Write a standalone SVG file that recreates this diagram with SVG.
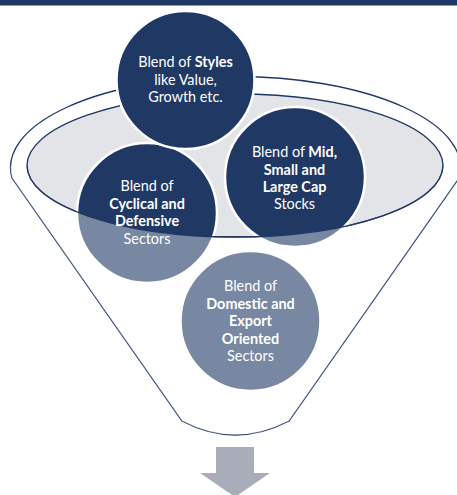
<svg xmlns="http://www.w3.org/2000/svg" width="457" height="495" viewBox="0 0 457 495">
<style>
.navy{fill:#1F3864;stroke:#fff;stroke-width:2.5}
.lbl{font-family:Lato,"Open Sans","Liberation Sans",sans-serif;font-size:14.4px;fill:#fff;text-anchor:middle}
.b{font-weight:bold}
.line{fill:none;stroke:#1F3864;stroke-width:1.3}
</style>
<defs>
<clipPath id="funnelClip">
<path id="funnelPath" d="M12 178 A225 91 0 1 1 459 178 L289 421 Q235 449 182 421 Z"/>
</clipPath>
</defs>
<rect x="0" y="0" width="457" height="5" fill="#1F3864"/>
<rect x="0" y="5" width="457" height="1" fill="#8E9AB5"/>
<g id="funnel">
<path d="M12 178 A225 91 0 1 1 459 178 L289 421 Q235 449 182 421 Z" fill="#fff" stroke="#1F3864" stroke-width="1.3"/>
<ellipse cx="235" cy="165.5" rx="208" ry="71.5" fill="#E3E4E8" stroke="#1F3864" stroke-width="1.3"/>
</g>
<g id="cyclical"><circle class="navy" cx="147" cy="213" r="70"/></g>
<g id="midcap"><circle class="navy" cx="295" cy="177" r="70"/></g>
<g id="domestic"><circle class="navy" cx="250.5" cy="321" r="70"/></g>
<g id="funnel-front">
<path d="M27 165.5 A208 71.5 0 0 0 443 165.5 L470 165.5 L470 470 L0 470 L0 165.5 Z" fill="#fff" fill-opacity="0.4" clip-path="url(#funnelClip)"/>
<path class="line" d="M27 165.5 A208 71.5 0 0 0 443 165.5"/>
</g>
<g id="styles"><circle class="navy" cx="185.5" cy="80" r="69"/></g>
<g id="labels">
<text class="lbl" x="185.5" y="67">Blend of <tspan class="b">Styles</tspan></text>
<text class="lbl" x="185.5" y="84.5">like Value,</text>
<text class="lbl" x="185.5" y="102">Growth etc.</text>
<text class="lbl" x="147" y="191">Blend of</text>
<text class="lbl b" x="147" y="208.5">Cyclical and</text>
<text class="lbl b" x="147" y="226">Defensive</text>
<text class="lbl" x="147" y="243.5">Sectors</text>
<text class="lbl" x="294.5" y="157">Blend of <tspan class="b">Mid,</tspan></text>
<text class="lbl b" x="294.5" y="174.5">Small and</text>
<text class="lbl b" x="294.5" y="191.5">Large Cap</text>
<text class="lbl" x="294.5" y="208.5">Stocks</text>
<text class="lbl" x="250.5" y="291">Blend of</text>
<text class="lbl b" x="250.5" y="308.5">Domestic and</text>
<text class="lbl b" x="250.5" y="326">Export</text>
<text class="lbl b" x="250.5" y="343.5">Oriented</text>
<text class="lbl" x="250.5" y="361">Sectors</text>
</g>
<g id="arrow">
<polygon points="216,447 254,447 254,473 270,473 235,497 200,473 216,473" fill="#A9ADBA"/>
</g>
</svg>
